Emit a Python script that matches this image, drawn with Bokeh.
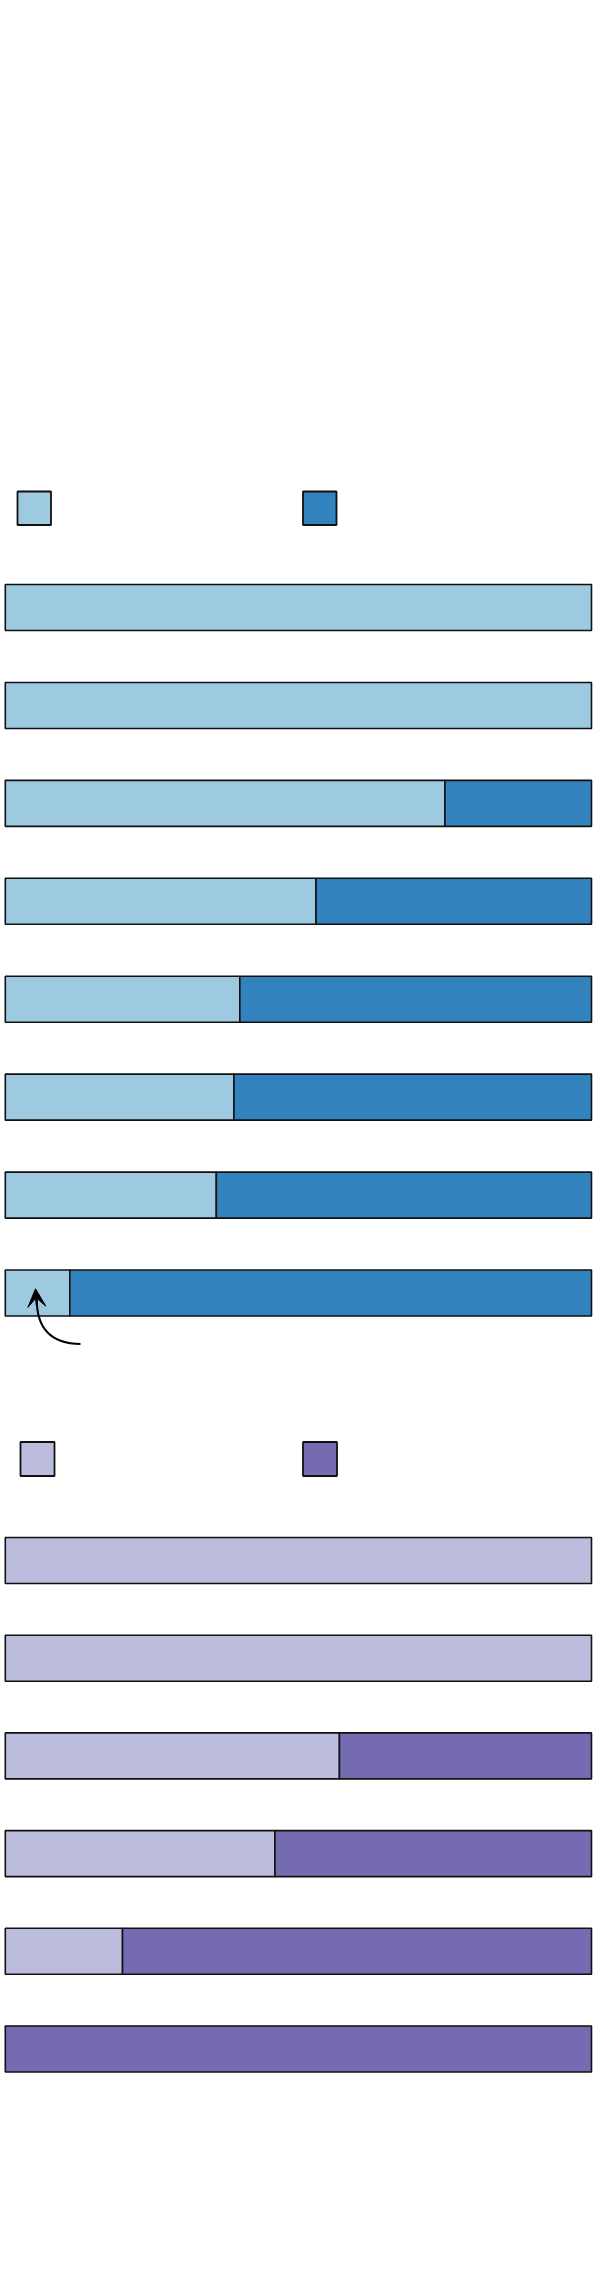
from bokeh.plotting import figure
from bokeh.models import Range1d, Arrow, VeeHead, ColumnDataSource
from bokeh.embed import file_html
from bokeh.resources import INLINE

# ---- data (percent shares, light part / dark part) ----
blue_light = [100, 100, 75, 53, 40, 39, 36, 11]
blue_dark = [100 - v for v in blue_light]
purple_light = [100, 100, 57, 46, 20, 0]
purple_dark = [100 - v for v in purple_light]

BLUE_LIGHT, BLUE_DARK = "#9ecae1", "#3182bd"
PURPLE_LIGHT, PURPLE_DARK = "#bcbddc", "#756bb1"
EDGE = "#111111"

# ---- layout ----
W, H = 600, 2100
X0_PX, X100_PX = 4.8, 591.0          # where 0% and 100% fall on the page
UNIT = (X100_PX - X0_PX) / 100.0
XS = -X0_PX / UNIT
XE = XS + W / UNIT


def px(xp):
    """page pixel x -> data x (percent scale)"""
    return xp / UNIT + XS


BAR_H = 46
BLUE_Y0, BLUE_STEP = 607.0, 97.93
PURPLE_Y0, PURPLE_STEP = 1560.0, 97.7

p = figure(width=W, height=H, output_backend="svg", toolbar_location=None,
           x_range=Range1d(XS, XE), y_range=Range1d(H, 0),
           x_axis_location=None, y_axis_location=None, min_border=0,
           title=None)
p.outline_line_color = None
p.grid.visible = False
p.background_fill_color = "white"
p.border_fill_color = "white"


def draw_group(light, dark, y0, step, c_light, c_dark):
    ys = [y0 + i * step for i in range(len(light))]
    l_src = ColumnDataSource(dict(
        y=[y for y, v in zip(ys, light) if v > 0],
        left=[0 for v in light if v > 0],
        right=[v for v in light if v > 0]))
    d_src = ColumnDataSource(dict(
        y=[y for y, v in zip(ys, dark) if v > 0],
        left=[100 - v for v in dark if v > 0],
        right=[100 for v in dark if v > 0]))
    p.hbar(y="y", left="left", right="right", height=BAR_H, source=l_src,
           fill_color=c_light, line_color=EDGE, line_width=1.6)
    p.hbar(y="y", left="left", right="right", height=BAR_H, source=d_src,
           fill_color=c_dark, line_color=EDGE, line_width=1.6)
    return ys


def legend_squares(x_pixels, y_top, size, colors):
    for xp, c in zip(x_pixels, colors):
        p.quad(left=px(xp), right=px(xp + size), top=y_top, bottom=y_top + size,
               fill_color=c, line_color=EDGE, line_width=1.8)


# blue group
legend_squares([17.0, 302.5], 491, 33.5, [BLUE_LIGHT, BLUE_DARK])
blue_ys = draw_group(blue_light, blue_dark, BLUE_Y0, BLUE_STEP, BLUE_LIGHT, BLUE_DARK)

# curved arrow pointing at the small light segment of the last blue bar
last_y = blue_ys[-1]
tail_y = last_y + 51
p.quadratic(x0=px(80), y0=tail_y, x1=px(36.3), y1=last_y + 6,
            cx=px(36), cy=tail_y - 0.5, line_color="black", line_width=2)
p.add_layout(Arrow(end=VeeHead(size=18, fill_color="black", line_color="black", line_width=1),
                   x_start=px(36.2), y_start=last_y + 12, x_end=px(35.0), y_end=last_y - 4.2,
                   line_color="black", line_width=2))

# purple group
legend_squares([20.0, 302.5], 1441.5, 34, [PURPLE_LIGHT, PURPLE_DARK])
draw_group(purple_light, purple_dark, PURPLE_Y0, PURPLE_STEP, PURPLE_LIGHT, PURPLE_DARK)

open("out.html", "w").write(file_html(p, INLINE))
